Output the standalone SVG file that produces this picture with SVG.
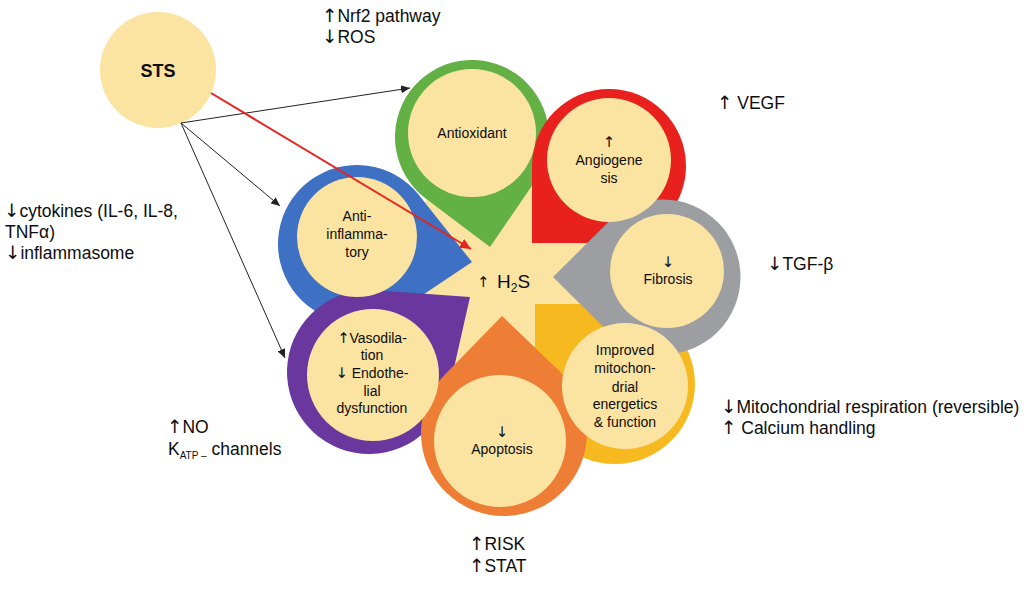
<svg xmlns="http://www.w3.org/2000/svg" width="1030" height="609" viewBox="0 0 1030 609">
<style>
.t{font-family:"Liberation Sans",Arial,sans-serif;fill:#0d0d0d}
.lbl{font-size:14px;text-anchor:middle}
.out{font-size:17.5px}
.ar{font-family:"DejaVu Sans",sans-serif;font-size:1.05em}
.yel{fill:#FBE3A1}
.blk{stroke:#222;stroke-width:1;fill:none}
.red{stroke:#E8231F;stroke-width:2;fill:none}
</style>
<defs>
<marker id="ah" markerUnits="userSpaceOnUse" markerWidth="10" markerHeight="8" refX="9" refY="4" orient="auto">
<path d="M0,0 L9,4 L0,8 Z" fill="#222"/>
</marker>
<marker id="ahr" markerUnits="userSpaceOnUse" markerWidth="12" markerHeight="10" refX="11" refY="5" orient="auto">
<path d="M0,0 L11,5 L0,10 Z" fill="#E8231F"/>
</marker>
</defs>
<rect width="1030" height="609" fill="#fff"/>

<g id="hub">
<circle class="yel" cx="507" cy="278" r="112"/>
</g>

<g id="petals">
<path id="petal-blue" fill="#3E71C3" d="M472,262 L418.9,194.9 A79,79 0 1 0 401,309.6 Z"/>
<path id="petal-green" fill="#63B044" d="M490,247 L535.5,180.5 A77,77 0 1 0 425.7,198.5 Z"/>
<path id="petal-red" fill="#E8211E" d="M532,243 L609,243 A77,77 0 1 0 532,166 Z"/>
<path id="petal-gold" fill="#F6B920" d="M535,304 L535,384 A80,80 0 1 0 615,304 Z"/>
<path id="petal-gray" fill="#9C9EA2" d="M553,277 L608.4,332 A77.5,77.5 0 1 0 608.4,222 Z"/>
<path id="petal-purple" fill="#6A379F" d="M470,297 L374.9,290.2 A82,82 0 1 0 449,390 Z"/>
<path id="petal-orange" fill="#EE7E35" d="M502,316 L444.5,375.1 A83,83 0 1 0 561.4,373.1 Z"/>
</g>

<g id="node-h2s">
<text class="t" x="477" y="287" font-size="14"><tspan class="ar">↑</tspan></text>
<text class="t" x="497" y="288" font-size="19">H<tspan font-size="12" dy="4">2</tspan><tspan dy="-4">S</tspan></text>
</g>

<g id="node-antiinflammatory">
<circle class="yel" cx="357" cy="237" r="60"/>
<text class="t lbl" x="357" y="221">Anti-</text>
<text class="t lbl" x="357" y="239">inflamma-</text>
<text class="t lbl" x="357" y="257">tory</text>
</g>

<g id="node-antioxidant">
<circle class="yel" cx="472" cy="133" r="64"/>
<text class="t lbl" x="472" y="138">Antioxidant</text>
</g>

<g id="node-angiogenesis">
<circle class="yel" cx="609" cy="160" r="62"/>
<text class="t lbl" x="609" y="147"><tspan class="ar">↑</tspan></text>
<text class="t lbl" x="609" y="165">Angiogene</text>
<text class="t lbl" x="609" y="183">sis</text>
</g>

<g id="node-fibrosis">
<circle class="yel" cx="667" cy="271" r="57"/>
<text class="t lbl" x="668" y="267"><tspan class="ar">↓</tspan></text>
<text class="t lbl" x="668" y="284">Fibrosis</text>
</g>

<g id="node-mito">
<circle class="yel" cx="625" cy="386" r="63"/>
<text class="t lbl" x="625" y="355">Improved</text>
<text class="t lbl" x="625" y="373">mitochon-</text>
<text class="t lbl" x="625" y="392">drial</text>
<text class="t lbl" x="625" y="409">energetics</text>
<text class="t lbl" x="625" y="427">&amp; function</text>
</g>

<g id="node-apoptosis">
<circle class="yel" cx="500" cy="441" r="66"/>
<text class="t lbl" x="502" y="437"><tspan class="ar">↓</tspan></text>
<text class="t lbl" x="502" y="454">Apoptosis</text>
</g>

<g id="node-vasodilation">
<circle class="yel" cx="373" cy="375" r="66"/>
<text class="t lbl" x="372" y="343"><tspan class="ar">↑</tspan>Vasodila-</text>
<text class="t lbl" x="372" y="360">tion</text>
<text class="t lbl" x="372" y="378"><tspan class="ar">↓</tspan> Endothe-</text>
<text class="t lbl" x="372" y="396">lial</text>
<text class="t lbl" x="372" y="413">dysfunction</text>
</g>

<g id="node-sts">
<circle class="yel" cx="158" cy="70" r="58"/>
<text class="t" x="158" y="77" font-size="18" font-weight="bold" text-anchor="middle">STS</text>
</g>

<g id="connectors">
<line class="blk" x1="181" y1="123" x2="410" y2="88" marker-end="url(#ah)"/>
<line class="blk" x1="181" y1="123" x2="280" y2="206" marker-end="url(#ah)"/>
<line class="blk" x1="181" y1="123" x2="285" y2="358" marker-end="url(#ah)"/>
<line class="red" x1="211" y1="93" x2="471" y2="249" marker-end="url(#ahr)"/>
</g>

<g id="annotations">
<text class="t out" x="322" y="22"><tspan class="ar">↑</tspan>Nrf2 pathway</text>
<text class="t out" x="322" y="43"><tspan class="ar">↓</tspan>ROS</text>
<text class="t out" x="4" y="217"><tspan class="ar">↓</tspan>cytokines (IL-6, IL-8,</text>
<text class="t out" x="5" y="238">TNFα)</text>
<text class="t out" x="5" y="259"><tspan class="ar">↓</tspan>inflammasome</text>
<text class="t out" x="717" y="109"><tspan class="ar">↑</tspan> VEGF</text>
<text class="t out" x="767" y="270"><tspan class="ar">↓</tspan>TGF-β</text>
<text class="t out" x="721" y="413"><tspan class="ar">↓</tspan>Mitochondrial respiration (reversible)</text>
<text class="t out" x="721" y="434"><tspan class="ar">↑</tspan> Calcium handling</text>
<text class="t out" x="167" y="433"><tspan class="ar">↑</tspan>NO</text>
<text class="t out" x="168" y="455">K<tspan font-size="10" dy="4">ATP –</tspan><tspan dy="-4"> channels</tspan></text>
<text class="t out" x="469" y="550"><tspan class="ar">↑</tspan>RISK</text>
<text class="t out" x="469" y="572"><tspan class="ar">↑</tspan>STAT</text>
</g>
</svg>
